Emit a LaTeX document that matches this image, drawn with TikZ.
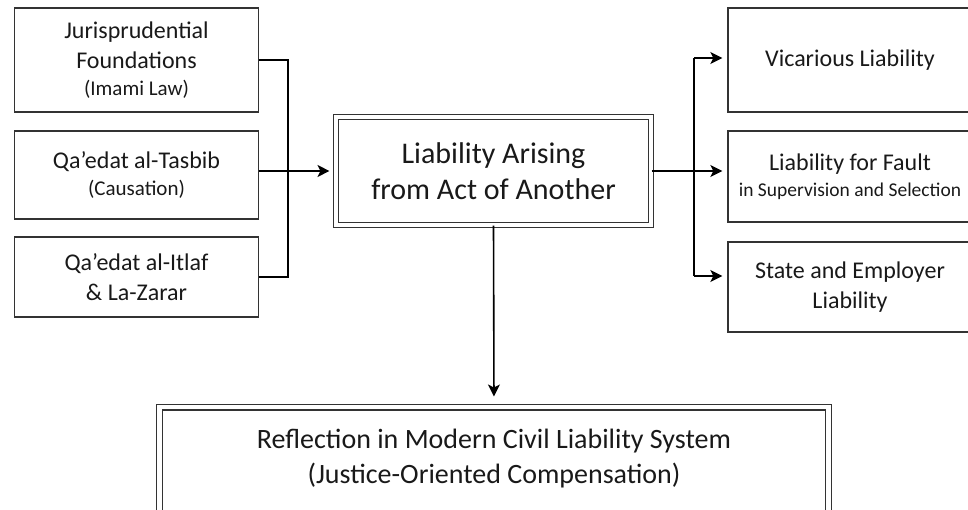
\documentclass[tikz,border=0pt]{standalone}
\usepackage{fontspec}
\setmainfont{Carlito}
\usepackage{tikz}
\usetikzlibrary{positioning, calc, arrows.meta}
\tikzstyle{Arrow} = [
	line width=1.6pt,
	-{Stealth[length=12pt, width=12pt, inset=3pt]}
	]
\tikzstyle{Line} = [line width=1.6pt]
\newcommand{\bigtxt}{\fontsize{24}{30}\selectfont}
\newcommand{\smalltxt}{\fontsize{21}{25}\selectfont}

\begin{document}
\begin{tikzpicture}[x=1pt, y=-1pt,
box/.style={draw=black!80, 
	line width=1.3pt, 
	align=center, 
	minimum width=244pt,
	text=black!90
	},
dbox/.style={box, 
	double, 
	double distance=3.5pt, 
	line width=1.1pt
	},
big/.style={font=\bigtxt}
]
\useasboundingbox (0,0) rectangle (968,510);

 % sources
 \node [box, big, minimum height=104pt] (1) at (136.5,60) {Jurisprudential\\ Foundations\\[-3pt] \smalltxt (Imami Law)};
 \node [box, big, minimum height=88pt] (2) at (136.5,175) {Qa’edat al-Tasbib\\[-3pt] \smalltxt (Causation)};
 \node [box, big, minimum height=80pt] (3) at (136.5,277) {Qa’edat al-Itlaf\\ \& La-Zarar};

 % central node
 \node [dbox, minimum width=315pt, minimum height=108pt, 
 	font=\fontsize{30}{36}\selectfont] (4) at (493.5,171) {Liability Arising\\ from Act of Another};

 % outcomes
 \node [box, big, minimum height=104pt] (5) at (850,60) {Vicarious Liability};
 \node [box, big, minimum height=91pt] (6) at (850,176.5) {Liability for Fault\\[-4pt] \fontsize{19.5}{24}\selectfont in Supervision and Selection};
 \node [box, big, minimum height=90pt] (7) at (850,287) {State and Employer\\ Liability};

 % reflection
 \node [dbox, minimum width=669pt, minimum height=130pt, 
 	line width=1.2pt, double distance=4.5pt, anchor=north] (8) at (494,406.5) {};
 \node [align=center, text=black!90, 
 	font=\fontsize{28}{35}\selectfont] (9) at (494,458.5) {Reflection in Modern Civil Liability System\\ (Justice-Oriented Compensation)};

 \coordinate (j) at (288,171);
 \coordinate (k1) at (694,58);
 \coordinate (k2) at (694,171);
 \coordinate (k3) at (694,276);

 \draw[Line] (1.east) -| (j) |- (3.east);
 \draw[Arrow, shorten >=6pt] (2.east |- 4) -- (4.west);

 \draw[Line] (4.east) -- (k2);
 \draw[Line] (k1) -- (k3);
 \draw[Arrow, shorten >=5pt] (k1) -- (5.west |- k1);
 \draw[Arrow, shorten >=5pt] (k2) -- (6.west |- k2);
 \draw[Arrow, shorten >=5pt] (k3) -- (7.west |- k3);

 \draw[Arrow, shorten >=10pt] (4.south) -- (8.north);

\end{tikzpicture}
\end{document}
